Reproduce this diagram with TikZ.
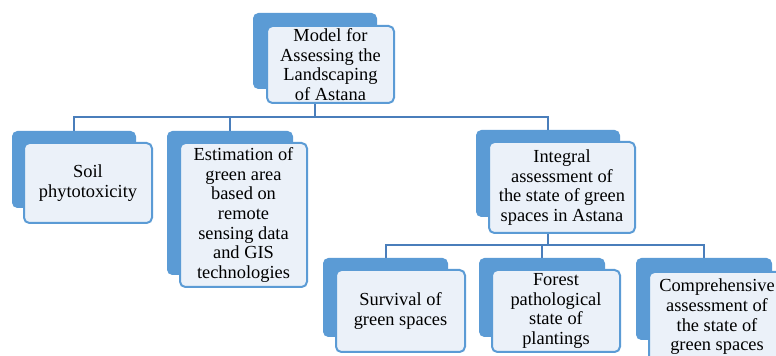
\documentclass[tikz,border=0pt]{standalone}
\usepackage{fontspec}
\setmainfont{Liberation Serif}
\newfontfamily\tnr{Liberation Serif}
\usetikzlibrary{backgrounds}
\definecolor{bk}{RGB}{91,155,213}
\definecolor{fr}{RGB}{235,241,249}
\definecolor{bd}{RGB}{91,155,213}
\definecolor{ln}{RGB}{74,126,187}
\tikzset{
  backbox/.style={rectangle, fill=bk, rounded corners=4pt, inner sep=0pt},
  frontbox/.style={rectangle, fill=fr, draw=bd, line width=1.5pt, rounded corners=4pt, inner sep=0pt, align=center,
    font=\tnr\fontsize{13.8}{14.8}\selectfont, text=black},
  conn/.style={draw=ln, line width=1.5pt}
}
\begin{document}
\begin{tikzpicture}[x=0.75pt,y=-0.75pt]
\useasboundingbox (0,0) rectangle (776,356);
% back boxes
\node[backbox, minimum width=93pt, minimum height=57pt] (mbk) at (315,51) {};
\node[backbox, minimum width=93pt, minimum height=57.75pt] (soilbk) at (74,169.5) {};
\node[backbox, minimum width=94.5pt, minimum height=108pt] (estbk) at (230,203) {};
\node[backbox, minimum width=108pt, minimum height=65.25pt] (intbk) at (548,173.5) {};
\node[backbox, minimum width=93.75pt, minimum height=59.25pt] (survbk) at (385.5,297.5) {};
\node[backbox, minimum width=94.5pt, minimum height=59.25pt] (forbk) at (542,297.5) {};
\node[backbox, minimum width=102pt, minimum height=61.5pt] (compbk) at (704,299) {};
% front boxes
\node[frontbox, minimum width=95.25pt, minimum height=57.75pt] (m) at (330.5,64.5) {Model for\\Assessing the\\Landscaping\\of Astana};
\node[frontbox, minimum width=96pt, minimum height=60pt] (soil) at (88,183) {Soil\\phytotoxicity};
\node[frontbox, minimum width=95.25pt, minimum height=108pt] (est) at (243.5,215) {Estimation of\\green area\\based on\\remote\\sensing data\\and GIS\\technologies};
\node[frontbox, minimum width=109.5pt, minimum height=68.25pt] (int) at (562,187.5) {Integral\\assessment of\\the state of green\\spaces in Astana};
\node[frontbox, minimum width=96.75pt, minimum height=61.5pt] (surv) at (400.5,311) {Survival of\\green spaces};
\node[frontbox, minimum width=96pt, minimum height=61.5pt] (for) at (556,311) {Forest\\pathological\\state of\\plantings};
\node[frontbox, minimum width=102pt, minimum height=67.5pt] (comp) at (717,317) {Comprehensive\\assessment of\\the state of\\green spaces};
% connectors
\coordinate (bus1) at (0,117.5);
\coordinate (bus2) at (0,245);
\begin{scope}[on background layer]
\draw[conn] (mbk.south) -- (mbk.south |- bus1);
\draw[conn] (soilbk.north) -- (soilbk.north |- bus1) -- (intbk.north |- bus1) -- (intbk.north);
\draw[conn] (estbk.north) -- (estbk.north |- bus1);
\draw[conn] (int.south -| intbk.south) -- (intbk.south |- bus2);
\draw[conn] (survbk.north) -- (survbk.north |- bus2) -- (compbk.north |- bus2) -- (compbk.north);
\draw[conn] (forbk.north) -- (forbk.north |- bus2);
\end{scope}
\end{tikzpicture}
\end{document}
